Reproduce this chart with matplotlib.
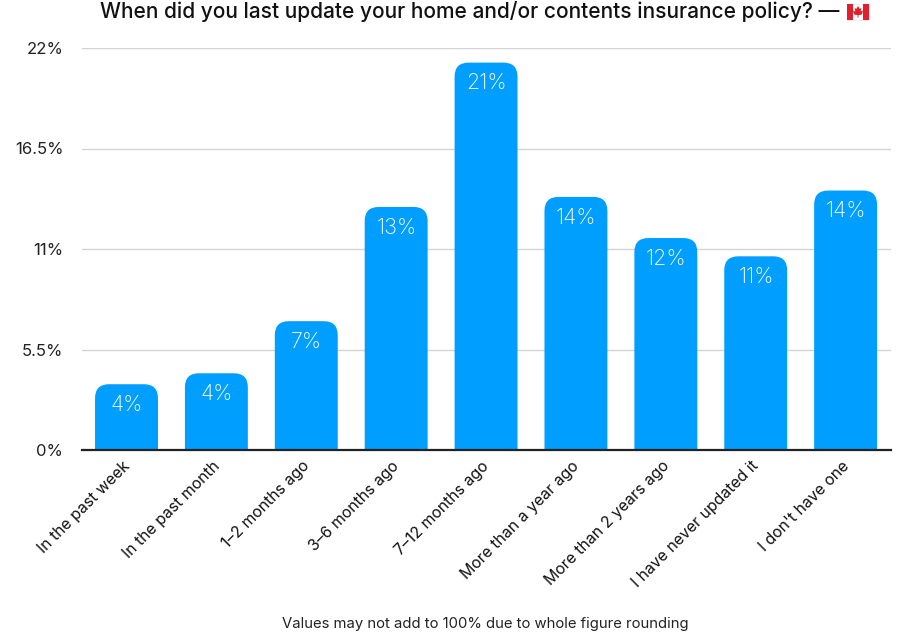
import matplotlib
matplotlib.use("Agg")
import matplotlib.pyplot as plt
from matplotlib.path import Path
from matplotlib.patches import PathPatch, Rectangle, Polygon
from matplotlib.transforms import ScaledTranslation

categories = ["In the past week", "In the past month", "1\u20132 months ago", "3\u20136 months ago",
              "7\u201312 months ago", "More than a year ago", "More than 2 years ago",
              "I have never updated it", "I don't have one"]
values = [3.6, 4.2, 7.05, 13.3, 21.2, 13.85, 11.6, 10.6, 14.2]
labels = ["4%", "4%", "7%", "13%", "21%", "14%", "12%", "11%", "14%"]
yticks = [0, 5.5, 11, 16.5, 22]
ytick_labels = ["0%", "5.5%", "11%", "16.5%", "22%"]

BLUE = "#009FFF"
W, H = 906, 634

plt.rcParams['font.family'] = ['Inter', 'DejaVu Sans']


def rounded_bar(ax, x, top, width, rx, ry):
    # bar with only the top corners rounded
    l, r = x - width / 2, x + width / 2
    verts = [(l, 0), (l, top - ry), (l, top), (l + rx, top), (r - rx, top), (r, top), (r, top - ry), (r, 0), (l, 0)]
    codes = [Path.MOVETO, Path.LINETO, Path.CURVE3, Path.CURVE3, Path.LINETO, Path.CURVE3, Path.CURVE3,
             Path.LINETO, Path.CLOSEPOLY]
    ax.add_patch(PathPatch(Path(verts, codes), facecolor=BLUE, edgecolor='none', zorder=3))


def flag(fig, x0, y0, w, h):
    # little Canadian flag, no emoji font available
    tr = fig.transFigure
    def fx(px): return (x0 + px * w) / W
    def fy(py): return 1 - (y0 + py * h) / H
    fig.add_artist(Rectangle((fx(0), fy(1)), w / W, h / H, transform=tr, facecolor='white', edgecolor='#dddddd', lw=0.4))
    fig.add_artist(Rectangle((fx(0), fy(1)), 0.27 * w / W, h / H, transform=tr, facecolor='#E0202C', edgecolor='none'))
    fig.add_artist(Rectangle((fx(0.73), fy(1)), 0.27 * w / W, h / H, transform=tr, facecolor='#E0202C', edgecolor='none'))
    leaf = [(0.5, 0.12), (0.57, 0.3), (0.65, 0.26), (0.62, 0.48), (0.7, 0.4), (0.72, 0.48), (0.67, 0.66),
            (0.52, 0.7), (0.52, 0.85), (0.48, 0.85), (0.48, 0.7), (0.33, 0.66), (0.28, 0.48), (0.3, 0.4),
            (0.38, 0.48), (0.35, 0.26), (0.43, 0.3)]
    fig.add_artist(Polygon([(fx(a), fy(b)) for a, b in leaf], transform=tr, facecolor='#E0202C', edgecolor='none'))


def main():
    fig = plt.figure(figsize=(W / 100, H / 100), dpi=100)
    ax = fig.add_axes([82 / W, 1 - 450 / H, (891 - 82) / W, (450 - 48) / H])
    ax.set_xlim(-0.5, len(categories) - 0.5)
    ax.set_ylim(0, 22)

    rx = 14 / (809 / 9)
    ry = 14 / (402 / 22)
    for i, (v, lab) in enumerate(zip(values, labels)):
        rounded_bar(ax, i - 0.005, v, 0.70, rx, ry)
        ax.annotate(lab, (i, v), xytext=(0, -15), textcoords='offset points', ha='center', va='center',
                    color='white', fontsize=15.5, fontweight='light', zorder=4)

    for s in ['top', 'right', 'left']:
        ax.spines[s].set_visible(False)
    ax.spines['bottom'].set_color('#222222')
    ax.spines['bottom'].set_linewidth(1.6)
    ax.spines['bottom'].set_zorder(5)

    ax.set_yticks(yticks)
    ax.set_yticklabels(ytick_labels, fontsize=12, color='#222222')
    ax.tick_params(axis='y', length=0, pad=13.5)
    ax.grid(axis='y', color='#d4d4d4', linewidth=1, zorder=0)
    ax.set_axisbelow(True)

    ax.set_xticks(range(len(categories)))
    ax.set_xticklabels(categories, rotation=45, ha='right', rotation_mode='anchor', fontsize=11.4, color='#111111')
    ax.tick_params(axis='x', length=0, pad=6)
    shift = ScaledTranslation(-5 / 100, 0, fig.dpi_scale_trans)
    for t in ax.get_xticklabels():
        t.set_transform(t.get_transform() + shift)

    fig.text(470 / W, 1 - 12 / H, "When did you last update your home and/or contents insurance policy? \u2014",
             ha='center', va='center', fontsize=15.05, fontweight='medium', color='#111111')
    flag(fig, 847, 4, 22, 16)
    fig.text(485.5 / W, 1 - 624 / H, "Values may not add to 100% due to whole figure rounding",
             ha='center', va='center', fontsize=10.7, color='#222222')

    fig.savefig("out.png", dpi=100)


if __name__ == "__main__":
    main()
